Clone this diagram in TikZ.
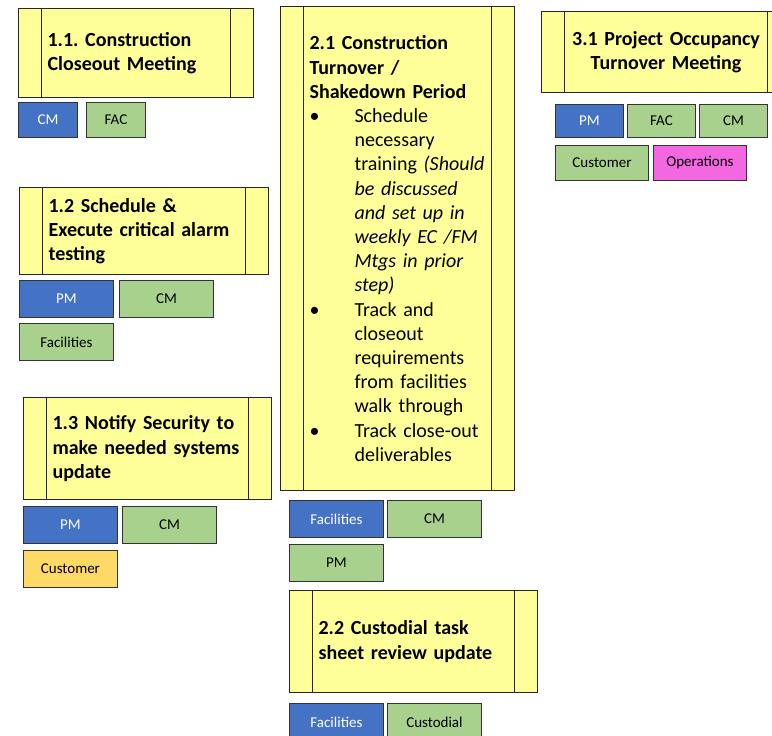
\documentclass[tikz,border=0pt]{standalone}
\usepackage{fontspec}
\setmainfont{Carlito}
\definecolor{stepyellow}{HTML}{FFFF99}
\definecolor{cblue}{HTML}{4472C4}
\definecolor{cgreen}{HTML}{A9D18E}
\definecolor{corange}{HTML}{FFD966}
\definecolor{cpink}{HTML}{F368E0}
\newcommand\myBul{\makebox[45pt][l]{\textbullet}}
\newcommand\myInd{\hspace*{45pt}}
\frenchspacing
\begin{document}
\begin{tikzpicture}[x=1pt,y=-1pt,
  stepbox/.style={draw=black!85, line width=1.1pt, fill=stepyellow, inner sep=0pt,
    anchor=north west, align=left,
    font=\fontsize{20}{24.3}\selectfont\bfseries,
    path picture={\draw[line width=1.1pt, black!85]
      ([xshift=23pt]path picture bounding box.north west) -- ([xshift=23pt]path picture bounding box.south west)
      ([xshift=-23pt]path picture bounding box.north east) -- ([xshift=-23pt]path picture bounding box.south east);}},
  chip/.style={draw=black!80, line width=0.9pt, inner sep=0pt, anchor=north west,
    font=\fontsize{15}{17}\selectfont, text=black},
  bluechip/.style={chip, fill=cblue, text=white},
  greenchip/.style={chip, fill=cgreen},
  orangechip/.style={chip, fill=corange},
  pinkchip/.style={chip, fill=cpink}
]
\useasboundingbox (0,0) rectangle (772,736);
\clip (0,0) rectangle (772,736);

% 1.1
\node[stepbox, minimum width=235pt, minimum height=89pt, text width=177pt] (b11) at (18,8)
  {1.1. Construction\\Closeout Meeting};
\node[bluechip, minimum width=59pt, minimum height=35pt] (c11a) at (18,102) {CM};
\node[greenchip, minimum width=59pt, minimum height=35pt] (c11b) at (86,102) {FAC};

% 1.2
\node[stepbox, minimum width=249pt, minimum height=87pt, text width=191pt] (b12) at (19,187)
  {1.2 Schedule \&\\Execute critical alarm\\testing};
\node[bluechip, minimum width=94pt, minimum height=37pt] (c12a) at (19,280) {PM};
\node[greenchip, minimum width=94pt, minimum height=37pt] (c12b) at (119,280) {CM};
\node[greenchip, minimum width=94pt, minimum height=37pt] (c12c) at (19,323) {Facilities};

% 1.3
\node[stepbox, minimum width=248pt, minimum height=102pt, text width=190pt] (b13) at (23,397)
  {1.3 Notify Security to\\make needed systems\\update};
\node[bluechip, minimum width=94pt, minimum height=37pt] (c13a) at (23,506) {PM};
\node[greenchip, minimum width=94pt, minimum height=37pt] (c13b) at (122,506) {CM};
\node[orangechip, minimum width=94pt, minimum height=37pt] (c13c) at (23,550) {Customer};

% 2.1
\node[stepbox, minimum width=234pt, minimum height=484pt, text width=176pt,
  font=\fontsize{20}{24.2}\selectfont] (b21) at (280,6)
  {{\bfseries 2.1 Construction\\Turnover /\\Shakedown Period}\\
   \myBul Schedule\\
   \myInd necessary\\
   \myInd training \textit{(Should}\\
   \myInd \textit{be discussed}\\
   \myInd \textit{and set up in}\\
   \myInd \textit{weekly EC /FM}\\
   \myInd \textit{Mtgs in prior}\\
   \myInd \textit{step)}\\
   \myBul Track and\\
   \myInd closeout\\
   \myInd requirements\\
   \myInd from facilities\\
   \myInd walk through\\
   \myBul Track close-out\\
   \myInd deliverables};
\node[bluechip, minimum width=94pt, minimum height=37pt] (c21a) at (289,500) {Facilities};
\node[greenchip, minimum width=94pt, minimum height=37pt] (c21b) at (387,500) {CM};
\node[greenchip, minimum width=94pt, minimum height=37pt] (c21c) at (289,544) {PM};

% 2.2
\node[stepbox, minimum width=248pt, minimum height=102pt, text width=190pt] (b22) at (289,590)
  {2.2 Custodial task\\sheet review update};
\node[bluechip, minimum width=94pt, minimum height=37pt] (c22a) at (289,703) {Facilities};
\node[greenchip, minimum width=94pt, minimum height=37pt] (c22b) at (387,703) {Custodial};

% 3.1
\node[stepbox, minimum width=249pt, minimum height=81pt, text width=200pt, align=center] (b31) at (541,11)
  {3.1 Project Occupancy\\Turnover Meeting};
\node[bluechip, minimum width=68pt, minimum height=33pt] (c31a) at (555,104) {PM};
\node[greenchip, minimum width=68pt, minimum height=33pt] (c31b) at (627,104) {FAC};
\node[greenchip, minimum width=68pt, minimum height=33pt] (c31c) at (699,104) {CM};
\node[greenchip, minimum width=93pt, minimum height=35pt] (c31d) at (555,145) {Customer};
\node[pinkchip, minimum width=93pt, minimum height=35pt] (c31e) at (653,145) {Operations};
\end{tikzpicture}
\end{document}
